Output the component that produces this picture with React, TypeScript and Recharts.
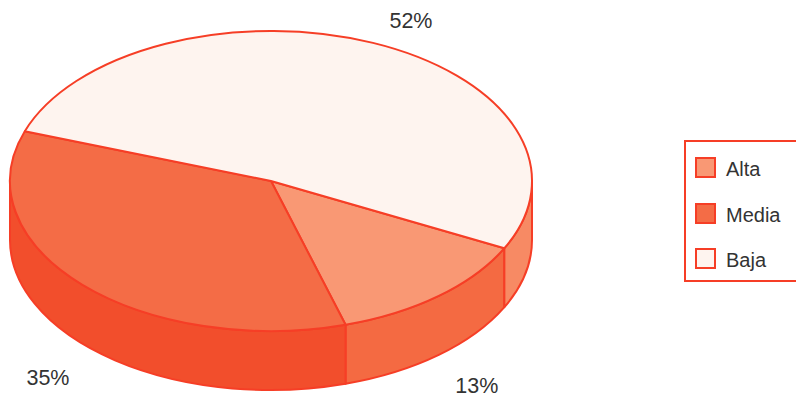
import { PieChart, Pie, Cell, Legend } from 'recharts';

const levels = ['Alta', 'Media', 'Baja'];
const shares = [13, 35, 52];
const topFills = ['#F99874', '#F46C46', '#FEF4EF'];
const wallFills = ['#F46A42', '#F24E2C', '#F78A64'];

const tableData = levels.map((name, i) => ({ name, value: shares[i] }));

const EDGE = '#F63E26';
const INK = '#333333';
const FONT = '"Liberation Sans", Arial, sans-serif';
const TILT = 0.575; // vertical squash of the disc
const DEPTH = 59;

const rad = (deg: number) => (deg * Math.PI) / 180;

function TopSlice(props: any) {
  const { cx, cy, outerRadius: rx, startAngle, endAngle, fill } = props;
  const ry = rx * TILT;
  const a = rad(-startAngle);
  const b = rad(-endAngle);
  const large = Math.abs(endAngle - startAngle) > 180 ? 1 : 0;
  const d =
    `M${cx},${cy} L${cx + rx * Math.cos(a)},${cy + ry * Math.sin(a)} ` +
    `A${rx},${ry} 0 ${large} 1 ${cx + rx * Math.cos(b)},${cy + ry * Math.sin(b)} Z`;
  return <path d={d} fill={fill} stroke={EDGE} strokeWidth={2} strokeLinejoin="round" />;
}

// Outer wall: only the part of a slice facing the viewer (0..180 deg on screen)
function WallSlice(props: any) {
  const { cx, cy, outerRadius: rx, startAngle, endAngle, fill } = props;
  const ry = rx * TILT;
  const t0 = -startAngle;
  const t1 = -endAngle;
  const paths: string[] = [];
  for (const shift of [0, -360]) {
    const from = Math.max(t0 + shift, 0);
    const to = Math.min(t1 + shift, 180);
    if (to <= from) continue;
    const ax = cx + rx * Math.cos(rad(from));
    const ay = cy + ry * Math.sin(rad(from));
    const bx = cx + rx * Math.cos(rad(to));
    const by = cy + ry * Math.sin(rad(to));
    paths.push(
      `M${ax},${ay} A${rx},${ry} 0 0 1 ${bx},${by} L${bx},${by + DEPTH} ` +
        `A${rx},${ry} 0 0 0 ${ax},${ay + DEPTH} Z`,
    );
  }
  if (paths.length === 0) return <g />;
  return <path d={paths.join(' ')} fill={fill} stroke={EDGE} strokeWidth={2} strokeLinejoin="round" />;
}

function PercentLabel(props: any) {
  const { cx, cy, outerRadius: rx, midAngle, value } = props;
  const ry = rx * TILT;
  const c = Math.cos(rad(-midAngle));
  const s = Math.sin(rad(-midAngle));
  const x = cx + rx * c + (c > 0 ? 38 : -34);
  const below = DEPTH + (c > 0 ? 31 : 35);
  const y = cy + ry * s + (s > 0 ? below : -22);
  return (
    <text x={x} y={y} textAnchor="middle" dominantBaseline="central" fontSize={21.5} fontFamily={FONT} fill={INK}>
      {`${value}%`}
    </text>
  );
}

function LegendBox() {
  return (
    <div
      style={{
        width: 130,
        height: 142,
        boxSizing: 'border-box',
        border: `2px solid ${EDGE}`,
        padding: '3px 0 0 9px',
        background: '#fff',
      }}
    >
      {levels.map((name, i) => (
        <div key={name} style={{ display: 'flex', alignItems: 'center', height: 45.5 }}>
          <span
            style={{
              width: 21,
              height: 21,
              boxSizing: 'border-box',
              border: `2px solid ${EDGE}`,
              background: topFills[i],
              marginRight: 10,
            }}
          />
          <span style={{ fontFamily: FONT, fontSize: 20, color: INK, position: 'relative', top: 2 }}>{name}</span>
        </div>
      ))}
    </div>
  );
}

export default function App() {
  return (
    <div style={{ position: 'absolute', left: 0, top: 0, width: 796, height: 395, overflow: 'hidden' }}>
      <PieChart width={796} height={395} margin={{ top: 0, right: 0, bottom: 0, left: 0 }}>
        <Pie
          data={tableData}
          dataKey="value"
          nameKey="name"
          cx={271}
          cy={181}
          innerRadius={0}
          outerRadius={261}
          startAngle={-26.6}
          endAngle={-386.6}
          legendType="none"
          shape={WallSlice}
          stroke="none"
          isAnimationActive={false}
        >
          {levels.map((name, i) => (
            <Cell key={name} fill={wallFills[i]} />
          ))}
        </Pie>
        <Pie
          data={tableData}
          dataKey="value"
          nameKey="name"
          cx={271}
          cy={181}
          innerRadius={0}
          outerRadius={261}
          startAngle={-26.6}
          endAngle={-386.6}
          shape={TopSlice}
          label={PercentLabel}
          labelLine={false}
          stroke="none"
          isAnimationActive={false}
        >
          {levels.map((name, i) => (
            <Cell key={name} fill={topFills[i]} />
          ))}
        </Pie>
        <Legend
          layout="vertical"
          content={<LegendBox />}
          wrapperStyle={{ left: 684, top: 140, width: 130, bottom: 'auto', right: 'auto' }}
        />
      </PieChart>
    </div>
  );
}
